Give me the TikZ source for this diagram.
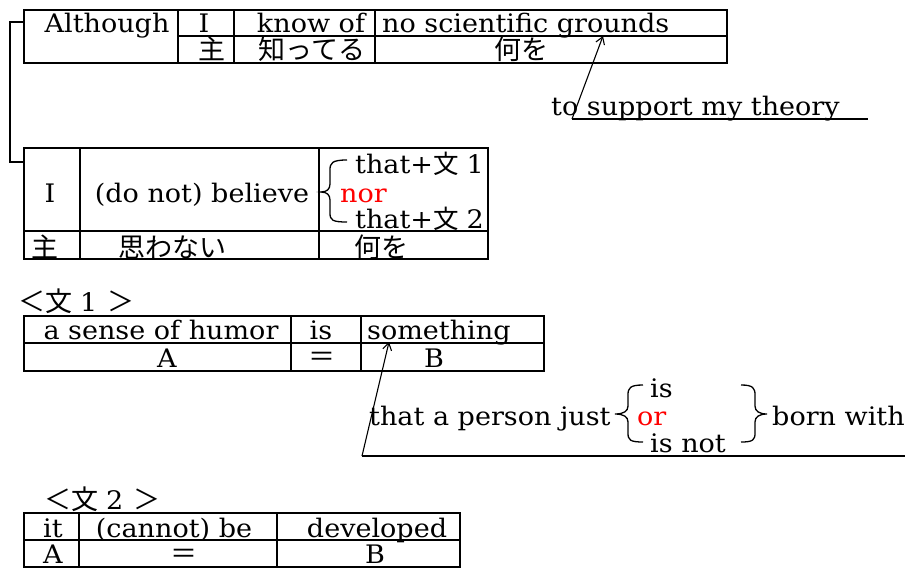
\documentclass[tikz,border=0pt]{standalone}
\usepackage{fontspec}
\setmainfont{DejaVu Serif}[FakeStretch=1.06]
\newfontfamily\jp{Noto Sans CJK JP}
\usetikzlibrary{arrows.meta}
\newcommand\txtsize{\fontsize{25.5}{30}\selectfont}
\tikzset{
  tbl/.style={line width=1.9pt},
  w/.style={inner sep=0pt, anchor=base, font=\txtsize},
  wl/.style={w, anchor=base west},
  j/.style={inner sep=0pt, anchor=base, text height=19pt, text depth=3pt, font=\jp\fontsize{27}{30}\selectfont},
  jl/.style={j, anchor=base west},
  red/.style={text={rgb,255:red,255;green,0;blue,0}},
  pointer/.style={line width=1.1pt, -{Straight Barb[length=7pt,width=9pt,line width=1.1pt]}},
  uline/.style={line width=1.5pt},
  brc/.style={line width=1.3pt},
}
\begin{document}
\begin{tikzpicture}[x=1pt,y=-1pt]
\useasboundingbox (0,0) rectangle (905,570);

% ---- main clause: Although I know of ...
\draw[tbl] (24,10) rectangle (727,63);
\draw[tbl] (178,36) -- (727,36);
\draw[tbl] (178,10) -- (178,63) (234,10) -- (234,63) (375,10) -- (375,63);
\node[w] (although) at (107,32) {Although};
\node[w] (i1) at (204,32) {I};
\node[w] (knowof) at (311,32) {know of};
\node[wl] (grounds) at (382,32) {no scientific grounds};
\node[j] (shu1) at (212,59) {主};
\node[j] (shitteru) at (312,59) {知ってる};
\node[j] (naniwo1) at (521,59) {何を};

\node[wl] (support) at (551,115) {to support my theory};
\coordinate (supL) at (572,119);
\coordinate (supR) at (868,119);
\coordinate (grTip) at (603,36);
\draw[uline] (supL) -- (supR);
\draw[pointer] (supL) -- (grTip);

% bracket linking the two clauses
\coordinate (brA) at (24,22);
\coordinate (brB) at (24,162);
\draw[tbl] (brA) -- (10,22) -- (10,162) -- (brB);

% ---- I (do not) believe ...
\draw[tbl] (24,148) rectangle (488,259);
\draw[tbl] (24,231) -- (488,231);
\draw[tbl] (80,148) -- (80,259) (319,148) -- (319,259);
\node[w] (i2) at (50,202) {I};
\node[w] (believe) at (202,202) {(do not) believe};
\node[wl] (that1) at (355,173) {that+{\jp 文}\hspace{8pt}1};
\node[wl, red] (nor) at (340,202) {nor};
\node[wl] (that2) at (355,228) {that+{\jp 文}\hspace{8pt}2};
\node[j] (shu2) at (45,257) {主};
\node[j] (omowanai) at (172,257) {思わない};
\node[j] (naniwo2) at (381,257) {何を};
\draw[brc] (347,160) .. controls (332,160) and (330,163) .. (330,170)
  -- (330,184) .. controls (330,189) and (327,192) .. (321,192)
  .. controls (327,192) and (330,195) .. (330,200)
  -- (330,213) .. controls (330,220) and (332,222) .. (347,222);

% ---- sentence 1
\node[jl] (s1) at (18,311) {＜文\hspace{8pt}{\rmfamily\txtsize 1}\hspace{10pt}＞};
\draw[tbl] (24,316) rectangle (544,371);
\draw[tbl] (24,343) -- (544,343);
\draw[tbl] (291,316) -- (291,371) (361,316) -- (361,371);
\node[w] (humor) at (161,339) {a sense of humor};
\node[w] (is1) at (321,339) {is};
\node[wl] (something) at (367,339) {something};
\node[w] (a1) at (167,367) {A};
\node[j] (eq1) at (322,366) {＝};
\node[w] (b1) at (434,367) {B};

\node[wl] (person) at (369,425) {that a person just};
\node[wl] (is2) at (650,397) {is};
\node[wl, red] (or) at (637,425) {or};
\node[wl] (isnot) at (650,452) {is not};
\node[wl] (born) at (772,425) {born with};
\coordinate (perL) at (362,456);
\coordinate (perR) at (905,456);
\coordinate (smTip) at (389,342);
\draw[uline] (perL) -- (perR);
\draw[pointer] (perL) -- (smTip);
\draw[brc] (643,385) .. controls (630,385) and (628,388) .. (628,395)
  -- (628,406) .. controls (628,411) and (624,414) .. (615,414)
  .. controls (624,414) and (628,417) .. (628,422)
  -- (628,433) .. controls (628,440) and (630,442) .. (643,442);
\draw[brc] (741,385) .. controls (753,385) and (755,388) .. (755,395)
  -- (755,406) .. controls (755,411) and (759,414) .. (767,414)
  .. controls (759,414) and (755,417) .. (755,422)
  -- (755,433) .. controls (755,440) and (753,442) .. (741,442);

% ---- sentence 2
\node[jl] (s2) at (44,509) {＜文\hspace{8pt}{\rmfamily\txtsize 2}\hspace{10pt}＞};
\draw[tbl] (24,513) rectangle (460,567);
\draw[tbl] (24,540) -- (460,540);
\draw[tbl] (79,513) -- (79,567) (277,513) -- (277,567);
\node[w] (it) at (53,537) {it};
\node[w] (cannot) at (174,537) {(cannot) be};
\node[w] (developed) at (377,537) {developed};
\node[w] (a2) at (53,563) {A};
\node[j] (eq2) at (184,563) {＝};
\node[w] (b2) at (375,563) {B};
\end{tikzpicture}
\end{document}
